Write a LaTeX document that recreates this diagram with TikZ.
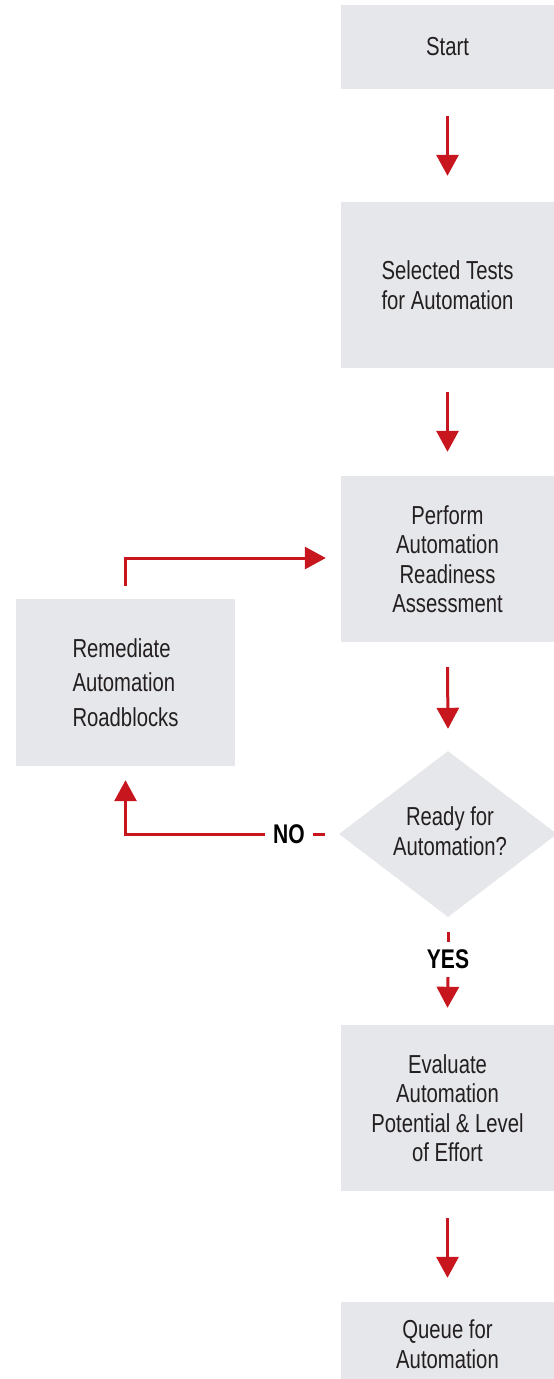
\documentclass[tikz,border=0pt]{standalone}
\usepackage{fontspec}
\setmainfont{Liberation Sans}[FakeStretch=0.78]
\usetikzlibrary{arrows.meta,shapes.geometric}
\definecolor{boxgray}{HTML}{E6E7EA}
\definecolor{flowred}{HTML}{C8161E}
\definecolor{txtcol}{HTML}{231F20}
\begin{document}
\begin{tikzpicture}[x=1pt,y=-1pt,
  box/.style={rectangle, fill=boxgray, minimum width=213pt, inner sep=0pt, align=center,
    text=txtcol, font=\fontsize{26}{29.5}\selectfont},
  txt/.style={align=center, text=txtcol, font=\fontsize{26}{29.5}\selectfont},
  lbl/.style={text=black, font=\fontsize{27}{29.5}\selectfont\bfseries, inner sep=0pt},
  conn/.style={draw=flowred, line width=3pt},
  arr/.style={conn, -{Triangle[width=22pt,length=21pt]}},
]
\useasboundingbox (0,0) rectangle (554,1379);

\node[box, minimum height=84pt] (start) at (447.5,47) {Start};
\node[box, minimum height=166pt] (sel) at (447.5,285) {Selected Tests\\for Automation};
\node[box, minimum height=166pt] (perf) at (447.5,559) {Perform\\Automation\\Readiness\\Assessment};
\node[diamond, fill=boxgray, minimum width=218pt, minimum height=166pt, inner sep=0pt] (dia) at (448,834) {};
\node[txt] (diatext) at (450,831) {Ready for\\Automation?};
\node[box, minimum width=219pt, minimum height=167pt, align=left,
  font=\fontsize{26}{34.5}\selectfont] (rem) at (125.5,682.5) {Remediate\\Automation\\Roadblocks};
\node[box, minimum height=166pt] (eval) at (447.5,1108) {Evaluate\\Automation\\Potential \& Level\\of Effort};
\node[box, minimum height=84pt] (queue) at (447.5,1344) {Queue for\\Automation};

\node[lbl, inner xsep=8pt, minimum height=26pt] (no) at (289,834) {NO};
\node[lbl, minimum height=35pt] (yes) at (448,959.5) {YES};

\draw[arr] ([yshift=-27]start.south) -- ([yshift=26]sel.north);
\draw[arr] ([yshift=-24]sel.south) -- ([yshift=24]perf.north);
\draw[arr] ([yshift=-25]perf.south) -- ([yshift=22]dia.north);
\draw[conn] ([xshift=-14]dia.west) -- (no.east);
\draw[arr] (no.west) -| ([yshift=-14]rem.south);
\draw[arr] ([yshift=13]rem.north) |- ([xshift=-15,yshift=1]perf.west);
\draw[conn] ([yshift=-15]dia.south) -- (yes.north);
\draw[arr] (yes.south) -- ([yshift=17]eval.north);
\draw[arr] ([yshift=-27]eval.south) -- ([yshift=24]queue.north);
\end{tikzpicture}
\end{document}
